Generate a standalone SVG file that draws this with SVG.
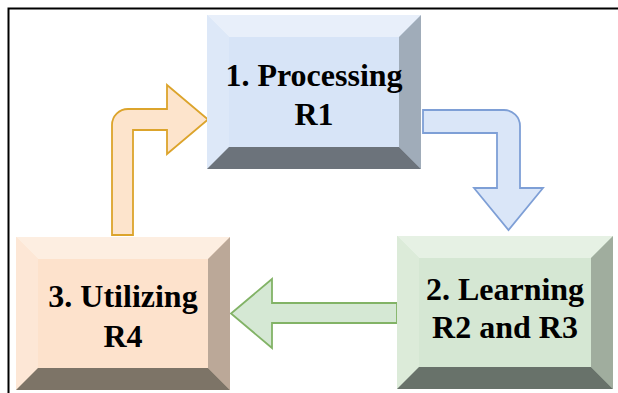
<svg xmlns="http://www.w3.org/2000/svg" width="618" height="393" viewBox="0 0 618 393">
<rect width="618" height="393" fill="#fff"/>
<path d="M8.5,393 V8.5 H618" fill="none" stroke="#000" stroke-width="2"/>
<g id="connectors" stroke-width="1.8" stroke-linejoin="miter">
<path id="c-util-proc" d="M112,235 V125 A16,16 0 0 1 128,109 H167 V85 L208,119.5 L167,154 V130 H133 V235 Z" fill="#fde4cc" stroke="#dca42c"/>
<path id="c-proc-learn" d="M423,110 H504 A16,16 0 0 1 520,126 V188 H543 L508.5,230 L474,188 H497 V133 H423 Z" fill="#dae6f8" stroke="#7e9fd6"/>
<path id="c-learn-util" d="M397,303 V323 H272 V348 L231,313.5 L272,279 V303 Z" fill="#d5e8d4" stroke="#82b366"/>
</g>
<g font-family="Liberation Serif" font-weight="bold" font-size="32" text-anchor="middle" fill="#000">
<g id="node-processing">
<rect x="207" y="15" width="214" height="154" fill="#d7e4f7"/>
<polygon points="207,15 421,15 399,37 229,37" fill="#e8effa"/>
<polygon points="207,15 229,37 229,147 207,169" fill="#dde8f8"/>
<polygon points="421,15 421,169 399,147 399,37" fill="#a0acb9"/>
<polygon points="207,169 421,169 399,147 229,147" fill="#6c737b"/>
<text x="314" y="86">1. Processing</text>
<text x="314" y="125">R1</text>
</g>
<g id="node-learning">
<rect x="397" y="236" width="216" height="153" fill="#d5e7d3"/>
<polygon points="397,236 613,236 591,258 419,258" fill="#e6f1e4"/>
<polygon points="397,236 419,258 419,367 397,389" fill="#dcebd9"/>
<polygon points="613,236 613,389 591,367 591,258" fill="#a0ad9e"/>
<polygon points="397,389 613,389 591,367 419,367" fill="#68726a"/>
<text x="505" y="300">2. Learning</text>
<text x="505" y="338">R2 and R3</text>
</g>
<g id="node-utilizing">
<rect x="16" y="237" width="214" height="153" fill="#fde2cc"/>
<polygon points="16,237 230,237 208,259 38,259" fill="#fdeee1"/>
<polygon points="16,237 38,259 38,368 16,390" fill="#fde7d6"/>
<polygon points="230,237 230,390 208,368 208,259" fill="#bba898"/>
<polygon points="16,390 230,390 208,368 38,368" fill="#7d7467"/>
<text x="123" y="307">3. Utilizing</text>
<text x="123" y="347">R4</text>
</g>
</g>
</svg>
